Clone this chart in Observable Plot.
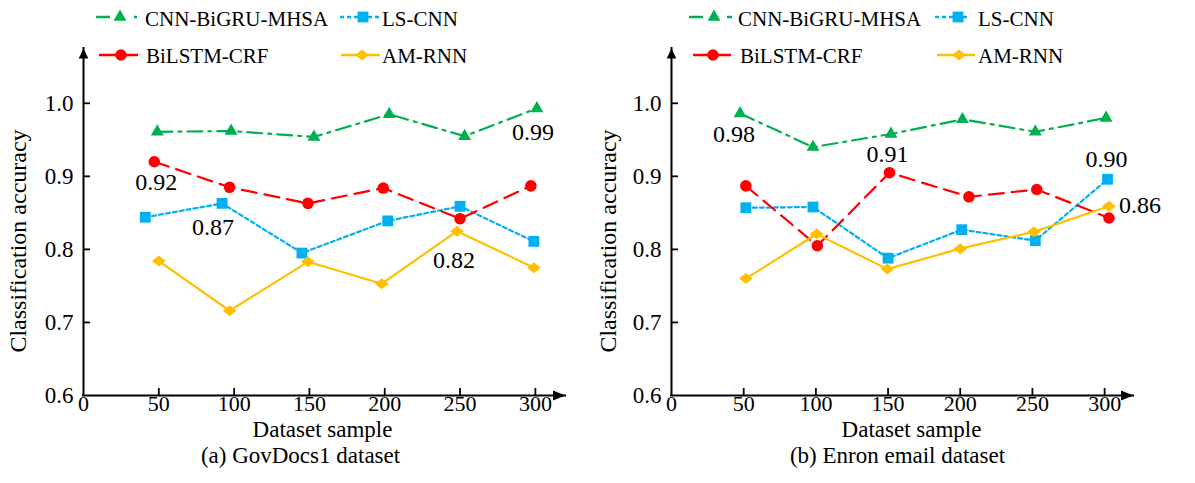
<!DOCTYPE html>
<html>
<head>
<meta charset="utf-8">
<script src="https://cdn.jsdelivr.net/npm/d3@7"></script>
<script src="https://cdn.jsdelivr.net/npm/@observablehq/plot@0.6"></script>
<style>
  html, body { margin: 0; padding: 0; background: #fff; }
  #chart { position: relative; width: 1195px; height: 483px; background: #fff; overflow: hidden; }
  .panel { position: absolute; top: 0; }
  svg text { font-family: "Liberation Serif", "Times New Roman", serif; }
</style>
</head>
<body>
<div id="chart"></div>
<script>
// ---------------- data ----------------
const xTickVals = [0, 50, 100, 150, 200, 250, 300];
const yTickVals = [0.6, 0.7, 0.8, 0.9, 1.0];
const seriesNames = ["CNN-BiGRU-MHSA", "LS-CNN", "BiLSTM-CRF", "AM-RNN"];

// (a) GovDocs1 dataset
const govX_cnn = [49, 98, 153, 203, 253, 301];
const govY_cnn = [0.961, 0.962, 0.954, 0.985, 0.955, 0.993];
const govX_ls = [41, 92, 145, 202, 250, 299];
const govY_ls = [0.844, 0.863, 0.795, 0.839, 0.859, 0.811];
const govX_bil = [47, 97, 149, 199, 250, 297];
const govY_bil = [0.920, 0.885, 0.863, 0.884, 0.842, 0.887];
const govX_am = [50, 97, 149, 198, 248, 299];
const govY_am = [0.784, 0.716, 0.783, 0.753, 0.825, 0.775];

// (b) Enron email dataset
const enrX_cnn = [47.5, 98, 152, 201.5, 252, 301];
const enrY_cnn = [0.986, 0.940, 0.958, 0.978, 0.961, 0.980];
const enrX_ls = [51.5, 98, 150, 201, 252, 302];
const enrY_ls = [0.857, 0.858, 0.788, 0.827, 0.812, 0.896];
const enrX_bil = [51.5, 101, 151, 206, 253, 303];
const enrY_bil = [0.887, 0.805, 0.905, 0.872, 0.882, 0.843];
const enrX_am = [51.5, 100.5, 149.5, 200, 251, 303];
const enrY_am = [0.760, 0.821, 0.773, 0.801, 0.824, 0.859];

// annotated values (label text + the point it belongs to)
const govLabels = [
  {x: 47, y: 0.920, text: "0.92"},
  {x: 92, y: 0.863, text: "0.87"},
  {x: 301, y: 0.993, text: "0.99"},
  {x: 248, y: 0.825, text: "0.82"}
];
const enrLabels = [
  {x: 47.5, y: 0.986, text: "0.98"},
  {x: 151, y: 0.905, text: "0.91"},
  {x: 302, y: 0.896, text: "0.90"},
  {x: 303, y: 0.859, text: "0.86"}
];

const xTitle = "Dataset sample";
const yTitle = "Classification accuracy";
const captions = ["(a) GovDocs1 dataset", "(b) Enron email dataset"];

// ---------------- styles ----------------
const FONT = '"Liberation Serif", "Times New Roman", serif';
const diamondWide = {
  draw(ctx, size) {
    const r = Math.sqrt(size / Math.PI);
    ctx.moveTo(-1.25 * r, 0); ctx.lineTo(0, -r); ctx.lineTo(1.25 * r, 0); ctx.lineTo(0, r); ctx.closePath();
  }
};
const arrowUp = {
  draw(ctx, size) {
    const r = Math.sqrt(size / Math.PI);
    ctx.moveTo(0, 0); ctx.lineTo(r, 2.1 * r); ctx.lineTo(-r, 2.1 * r); ctx.closePath();
  }
};
const arrowRight = {
  draw(ctx, size) {
    const r = Math.sqrt(size / Math.PI);
    ctx.moveTo(0, 0); ctx.lineTo(-2.5 * r, -r); ctx.lineTo(-2.5 * r, r); ctx.closePath();
  }
};
const styles = {
  "CNN-BiGRU-MHSA": {color: "#00B050", dash: "15,6,3,6", symbol: "triangle", r: 4.8},
  "LS-CNN": {color: "#00B0F0", dash: "4,3", symbol: "square", r: 6.1},
  "BiLSTM-CRF": {color: "#FF0000", dash: "15,8", symbol: "circle", r: 5.8},
  "AM-RNN": {color: "#FFC000", dash: null, symbol: diamondWide, r: 5.5}
};

function rows(xs, ys, name) { return xs.map((x, i) => ({x, y: ys[i], series: name})); }

const panels = [
  {
    left: 0, width: 597, marginLeft: 83, marginRight: 32,
    series: [rows(govX_cnn, govY_cnn, seriesNames[0]), rows(govX_ls, govY_ls, seriesNames[1]),
             rows(govX_bil, govY_bil, seriesNames[2]), rows(govX_am, govY_am, seriesNames[3])],
    labels: govLabels, labelOffsets: [[2, 21], [-9, 24], [-4, 24], [-3, 29]],
    caption: captions[0], yTitleDx: -65, xTitleDx: -2, captionDx: -24,
    legend: [
      {name: seriesNames[0], x1: 96, x2: 137, sx: 120, tx: 145, row: 0},
      {name: seriesNames[1], x1: 340, x2: 380, sx: 363, tx: 382, row: 0},
      {name: seriesNames[2], x1: 99, x2: 138, sx: 121, tx: 146, row: 1},
      {name: seriesNames[3], x1: 341, x2: 380, sx: 362, tx: 382, row: 1}
    ]
  },
  {
    left: 597, width: 598, marginLeft: 74, marginRight: 62,
    series: [rows(enrX_cnn, enrY_cnn, seriesNames[0]), rows(enrX_ls, enrY_ls, seriesNames[1]),
             rows(enrX_bil, enrY_bil, seriesNames[2]), rows(enrX_am, enrY_am, seriesNames[3])],
    labels: enrLabels, labelOffsets: [[-6, 21], [-2, -18], [-1, -20], [31, -1]],
    caption: captions[1], yTitleDx: -63, xTitleDx: 9, captionDx: -5,
    legend: [
      {name: seriesNames[0], x1: 92, x2: 135, sx: 117, tx: 141, row: 0},
      {name: seriesNames[1], x1: 338, x2: 370, sx: 361, tx: 381, row: 0},
      {name: seriesNames[2], x1: 96, x2: 134, sx: 116, tx: 143, row: 1},
      {name: seriesNames[3], x1: 340, x2: 378, sx: 362, tx: 381, row: 1}
    ]
  }
];

const X_MAX = 320, Y_MIN = 0.6, Y_MAX = 1.075;
const chart = document.getElementById("chart");

for (const p of panels) {
  const marks = [
    // axis lines
    Plot.ruleY([Y_MIN], {x1: 0, x2: X_MAX, stroke: "black", strokeWidth: 2, strokeLinecap: "square"}),
    Plot.ruleX([0], {y1: Y_MIN, y2: Y_MAX, stroke: "black", strokeWidth: 2, strokeLinecap: "square"}),
    // inward ticks
    Plot.ruleX(xTickVals.slice(1), {x: d => d, y1: Y_MIN, y2: Y_MIN, insetTop: -7, stroke: "black", strokeWidth: 1.8}),
    Plot.ruleY(yTickVals.slice(1), {y: d => d, x1: 0, x2: 0, insetRight: -7, stroke: "black", strokeWidth: 1.8}),
    // arrow heads
    Plot.dot([0], {x: d => d, y: Y_MAX, symbol: arrowUp, r: 4.8, fill: "black", stroke: "none"}),
    Plot.dot([X_MAX], {x: d => d, y: Y_MIN, symbol: arrowRight, r: 5, fill: "black", stroke: "none"}),
    // tick labels
    Plot.axisX({ticks: xTickVals, tickSize: 0, tickPadding: 0, label: null, fontSize: 22, tickFormat: d => String(d)}),
    Plot.axisY({ticks: yTickVals, tickSize: 0, tickPadding: 10, label: null, fontSize: 23, tickFormat: d3.format(".1f")}),
    // titles
    Plot.text([yTitle], {text: d => d, frameAnchor: "left", textAnchor: "middle", lineAnchor: "middle", rotate: -90, dx: p.yTitleDx, dy: 19, fontSize: 24}),
    Plot.text([xTitle], {text: d => d, frameAnchor: "bottom", textAnchor: "middle", lineAnchor: "middle", dy: 34, dx: p.xTitleDx, fontSize: 23}),
    Plot.text([p.caption], {text: d => d, frameAnchor: "bottom", textAnchor: "middle", lineAnchor: "middle", dy: 60, dx: p.captionDx, fontSize: 23})
  ];
  for (const s of p.series) {
    const st = styles[s[0].series];
    marks.push(Plot.line(s, {x: "x", y: "y", stroke: st.color, strokeWidth: 2.2, strokeDasharray: st.dash}));
  }
  for (const s of p.series) {
    const st = styles[s[0].series];
    marks.push(Plot.dot(s, {x: "x", y: "y", symbol: st.symbol, r: st.r, fill: st.color, stroke: "none"}));
  }
  p.labels.forEach((l, i) => {
    marks.push(Plot.text([l], {x: "x", y: "y", text: "text", dx: p.labelOffsets[i][0], dy: p.labelOffsets[i][1], fontSize: 24}));
  });

  const svg = Plot.plot({
    width: p.width, height: 483,
    marginTop: 48, marginBottom: 88, marginLeft: p.marginLeft, marginRight: p.marginRight,
    x: {domain: [0, X_MAX]},
    y: {domain: [Y_MIN, Y_MAX]},
    style: {fontFamily: FONT, fontSize: "22px", background: "white", color: "black", overflow: "visible"},
    marks
  });

  // legend drawn into the same SVG
  const g = d3.select(svg).append("g").attr("class", "legend").attr("text-anchor", "start");
  const rowY = [17, 55], rowBase = [26, 63];
  for (const it of p.legend) {
    const st = styles[it.name];
    const y = rowY[it.row];
    const dash = it.name === "BiLSTM-CRF" ? null : it.name === "CNN-BiGRU-MHSA" ? "14,24,6" : st.dash;
    g.append("line").attr("x1", it.x1).attr("x2", it.x2).attr("y1", y).attr("y2", y)
      .attr("stroke", st.color).attr("stroke-width", 2.4).attr("stroke-dasharray", dash);
    const symType = typeof st.symbol === "string"
      ? {triangle: d3.symbolTriangle, square: d3.symbolSquare, circle: d3.symbolCircle}[st.symbol]
      : st.symbol;
    g.append("path").attr("d", d3.symbol(symType, st.r * st.r * Math.PI)())
      .attr("transform", `translate(${it.sx},${y})`).attr("fill", st.color);
    g.append("text").attr("x", it.tx).attr("y", rowBase[it.row]).attr("font-size", 21)
      .attr("text-anchor", "start").attr("fill", "black").text(it.name);
  }

  const div = document.createElement("div");
  div.className = "panel";
  div.style.left = p.left + "px";
  div.appendChild(svg);
  chart.appendChild(div);
}
</script>
</body>
</html>
